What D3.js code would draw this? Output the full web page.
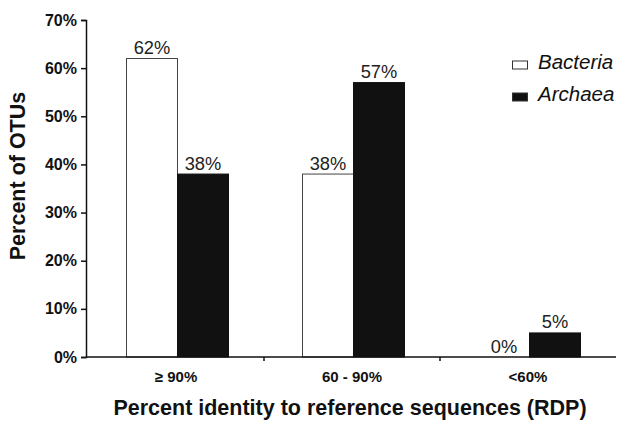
<!DOCTYPE html>
<html><head><meta charset="utf-8">
<script src="https://cdn.jsdelivr.net/npm/d3@7"></script>
<style>body{margin:0;background:#fff}svg{display:block}text{font-family:"Liberation Sans",Arial,Helvetica,sans-serif}</style>
</head><body><svg id="c" width="626" height="423"></svg>
<script>
const categories = ["\u2265 90%", "60 - 90%", "<60%"];
const seriesNames = ["Bacteria", "Archaea"];
const bacteria = [62, 38, 0];
const archaea = [38, 57, 5];
const yTicks = [0, 10, 20, 30, 40, 50, 60, 70];

const svg = d3.select("#c");
const x0 = 86, xEnd = 616, yTop = 20, yBot = 357;
const x = d3.scaleBand().domain(categories).range([88, 616]);
const xs = d3.scaleBand().domain(seriesNames).range([0, 102]);
const y = d3.scaleLinear().domain([0, 70]).range([yBot, yTop]);
const colors = {Bacteria: "#ffffff", Archaea: "#111111"};
const data = categories.map((c, i) => ({cat: c, vals: [{s: "Bacteria", v: bacteria[i]}, {s: "Archaea", v: archaea[i]}]}));

const g = svg.append("g");
data.forEach(d => {
  const cx = x(d.cat) + x.bandwidth() / 2 - 51 + 1.5;
  d.vals.forEach(e => {
    if (e.v > 0) {
      g.append("rect").attr("x", cx + xs(e.s)).attr("y", y(e.v))
        .attr("width", xs.bandwidth()).attr("height", yBot - y(e.v))
        .attr("fill", colors[e.s]).attr("stroke", e.s === "Bacteria" ? "#444" : "#111").attr("stroke-width", 1);
    }
    g.append("text").attr("x", cx + xs(e.s) + xs.bandwidth() / 2).attr("y", y(e.v) - 4.5)
      .attr("text-anchor", "middle").attr("font-size", 18.3).attr("fill", "#222").text(e.v + "%");
  });
});

// y axis
const yAxis = d3.axisLeft(y).tickValues(yTicks).tickFormat(d => d + "%").tickSize(5).tickPadding(4);
const ya = svg.append("g").attr("transform", `translate(${x0},0)`).call(yAxis);
ya.select(".domain").attr("stroke", "#111").attr("stroke-width", 1.5);
ya.selectAll(".tick line").attr("stroke", "#111").attr("stroke-width", 1.5);
ya.selectAll(".tick text").attr("font-size", 16).attr("font-weight", "bold").attr("fill", "#111")
  .style("font-family", "'Liberation Sans',Arial,sans-serif");

// x axis
svg.append("line").attr("x1", x0).attr("x2", xEnd).attr("y1", yBot).attr("y2", yBot).attr("stroke", "#111").attr("stroke-width", 1.5);
const xAxis = d3.axisBottom(x).tickSize(0).tickPadding(14);
const xa = svg.append("g").attr("transform", `translate(0,${yBot})`).call(xAxis);
xa.select(".domain").remove();
xa.selectAll(".tick text").attr("font-size", 15).attr("font-weight", "bold").attr("fill", "#111")
  .style("font-family", "'Liberation Sans',Arial,sans-serif");
categories.slice(1).forEach(c => {
  svg.append("line").attr("x1", x(c)).attr("x2", x(c)).attr("y1", yBot).attr("y2", yBot + 4).attr("stroke", "#111").attr("stroke-width", 1.5);
});

// titles
svg.append("text").attr("transform", "translate(25,176) rotate(-90)").attr("text-anchor", "middle")
  .attr("font-size", 21.5).attr("font-weight", "bold").attr("fill", "#111").text("Percent of OTUs");
svg.append("text").attr("x", 350).attr("y", 415).attr("text-anchor", "middle")
  .attr("font-size", 21.5).attr("font-weight", "bold").attr("fill", "#111").text("Percent identity to reference sequences (RDP)");

// legend
seriesNames.forEach((s, i) => {
  const ly = 61 + i * 32;
  svg.append("rect").attr("x", 512.5).attr("y", ly).attr("width", 15).attr("height", 8)
    .attr("fill", colors[s]).attr("stroke", "#333").attr("stroke-width", 1);
  svg.append("text").attr("x", 538).attr("y", ly + 8).attr("font-size", 20.5).attr("font-style", "italic")
    .attr("fill", "#111").text(s);
});
</script></body></html>
